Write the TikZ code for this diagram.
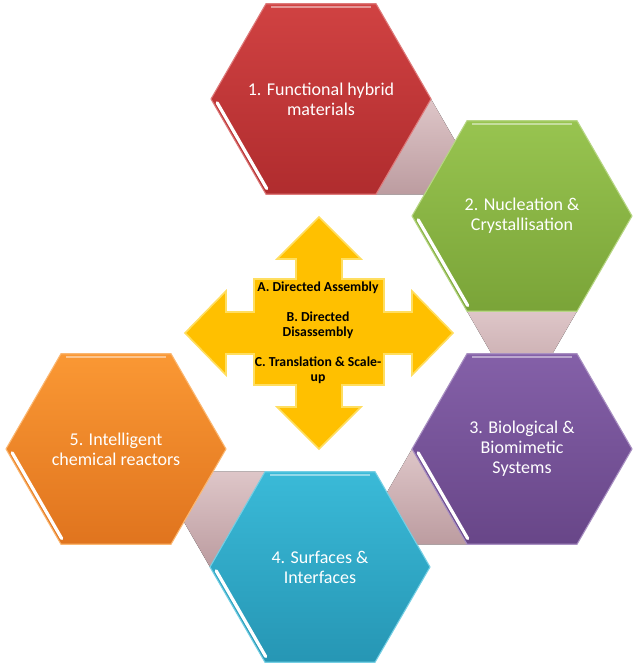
\documentclass[tikz,border=0pt]{standalone}
\usepackage{fontspec}
\setmainfont{Carlito}
\usetikzlibrary{shapes.geometric,calc,backgrounds}

\definecolor{vermelhoTopo}{RGB}{208,66,66}
\definecolor{vermelhoBase}{RGB}{176,44,46}
\definecolor{verdeTopo}{RGB}{152,196,80}
\definecolor{verdeBase}{RGB}{122,164,56}
\definecolor{roxoTopo}{RGB}{132,96,168}
\definecolor{roxoBase}{RGB}{104,70,136}
\definecolor{azulTopo}{RGB}{58,186,216}
\definecolor{azulBase}{RGB}{38,150,180}
\definecolor{laranjaTopo}{RGB}{250,152,52}
\definecolor{laranjaBase}{RGB}{224,116,30}
\definecolor{rosaClaro}{RGB}{222,198,200}
\definecolor{rosaEscuro}{RGB}{188,156,160}
\definecolor{amarelo}{RGB}{255,192,0}
\definecolor{amareloClaro}{RGB}{255,222,96}

\begin{document}
\begin{tikzpicture}[
    x=0.75pt,
    y=0.75pt,
    every node/.style={font=\fontsize{13.5}{15}\selectfont},
    hexagono/.style={regular polygon, regular polygon sides=6, minimum size=165pt,
        inner sep=0pt, outer sep=0pt, line width=0.8pt},
    texto/.style={text=white, align=center, inner sep=0pt},
    conector/.style={top color=rosaClaro, bottom color=rosaEscuro},
    brilho/.style={white, line width=2.4pt, line cap=round},
    seta/.style={fill=amarelo, draw=amareloClaro, line width=1.2pt, line join=miter},
    rotulo/.style={font=\fontsize{10.3}{11.25}\selectfont\bfseries, align=center}
]

% Moldura:
% fixa as margens da figura inteira.
\useasboundingbox (0,0) rectangle (638,670);

% Cinco hexágonos:
% dispostos num anel em torno do centro (319,337), com raio de 234.
% O texto vai num rótulo central, para não alargar o hexágono.
\node[hexagono, top color=vermelhoTopo, bottom color=vermelhoBase, draw=vermelhoTopo!70!white,
    label={[texto]center:1. Functional hybrid\\materials}]
    (funcional) at (321,571) {};
\node[hexagono, top color=verdeTopo, bottom color=verdeBase, draw=verdeTopo!70!white,
    label={[texto]center:2. Nucleation \&\\Crystallisation}]
    (nucleacao) at (522,454) {};
\node[hexagono, top color=roxoTopo, bottom color=roxoBase, draw=roxoTopo!70!white,
    label={[texto]center:3. Biological \&\\Biomimetic\\Systems}]
    (biologico) at (522,221) {};
\node[hexagono, top color=azulTopo, bottom color=azulBase, draw=azulTopo!70!white,
    label={[texto]center:4. Surfaces \&\\Interfaces}]
    (superficies) at (320,103) {};
\node[hexagono, top color=laranjaTopo, bottom color=laranjaBase, draw=laranjaTopo!70!white,
    label={[texto]center:5. Intelligent\\chemical reactors}]
    (reatores) at (116,221) {};

% Realces:
% faixa branca junto ao lado inferior esquerdo e linha clara no topo de cada hexágono.
\foreach \h in {funcional,nucleacao,biologico,superficies,reatores} {
    \draw[brilho] ($(\h.180)!0.04!(\h.240)+(4,0)$) -- ($(\h.180)!0.94!(\h.240)+(4,0)$);
    \draw[white, opacity=0.45, line width=1.5pt] ($(\h.120)+(5,-3)$) -- ($(\h.60)+(-5,-3)$);
}

% Conectores:
% triângulos rosados atrás dos hexágonos, ligando cada um ao seguinte.
\begin{scope}[on background layer]
    \fill[white] (0,0) rectangle (638,670);
    \fill[conector] (funcional.0) -- (funcional.300) -- ++(110,0) -- cycle;
    \fill[conector] (nucleacao.240) -- (nucleacao.300) -- ($(nucleacao.240)+(300:110)$) -- cycle;
    \fill[conector] (biologico.180) -- (biologico.240) -- ++(-110,0) -- cycle;
    \fill[conector] (superficies.120) -- (superficies.180) -- ($(superficies.120)+(-110,0)$) -- cycle;
\end{scope}

% Seta em quatro direções:
% centrada no meio do anel, com as pontas voltadas para cima, baixo, esquerda e direita.
\draw[seta, shift={(319,337)}]
    (0,116) -- (42,74) -- (23,74) -- (23,54) -- (65,54) -- (65,21) -- (93,21) -- (93,42)
    -- (134,0) -- (93,-42) -- (93,-21) -- (65,-21) -- (65,-52) -- (23,-52) -- (23,-74)
    -- (42,-74) -- (0,-116) -- (-42,-74) -- (-23,-74) -- (-23,-52) -- (-65,-52) -- (-65,-21)
    -- (-93,-21) -- (-93,-42) -- (-134,0) -- (-93,42) -- (-93,21) -- (-65,21) -- (-65,54)
    -- (-23,54) -- (-23,74) -- (-42,74) -- cycle;

% Eixos de trabalho:
% texto em negrito sobre a seta.
\node[rotulo] (eixos) at (318,337)
    {A. Directed Assembly\\[11.25pt]
     B. Directed\\Disassembly\\[11.25pt]
     C. Translation \& Scale-\\up};

\end{tikzpicture}
\end{document}
